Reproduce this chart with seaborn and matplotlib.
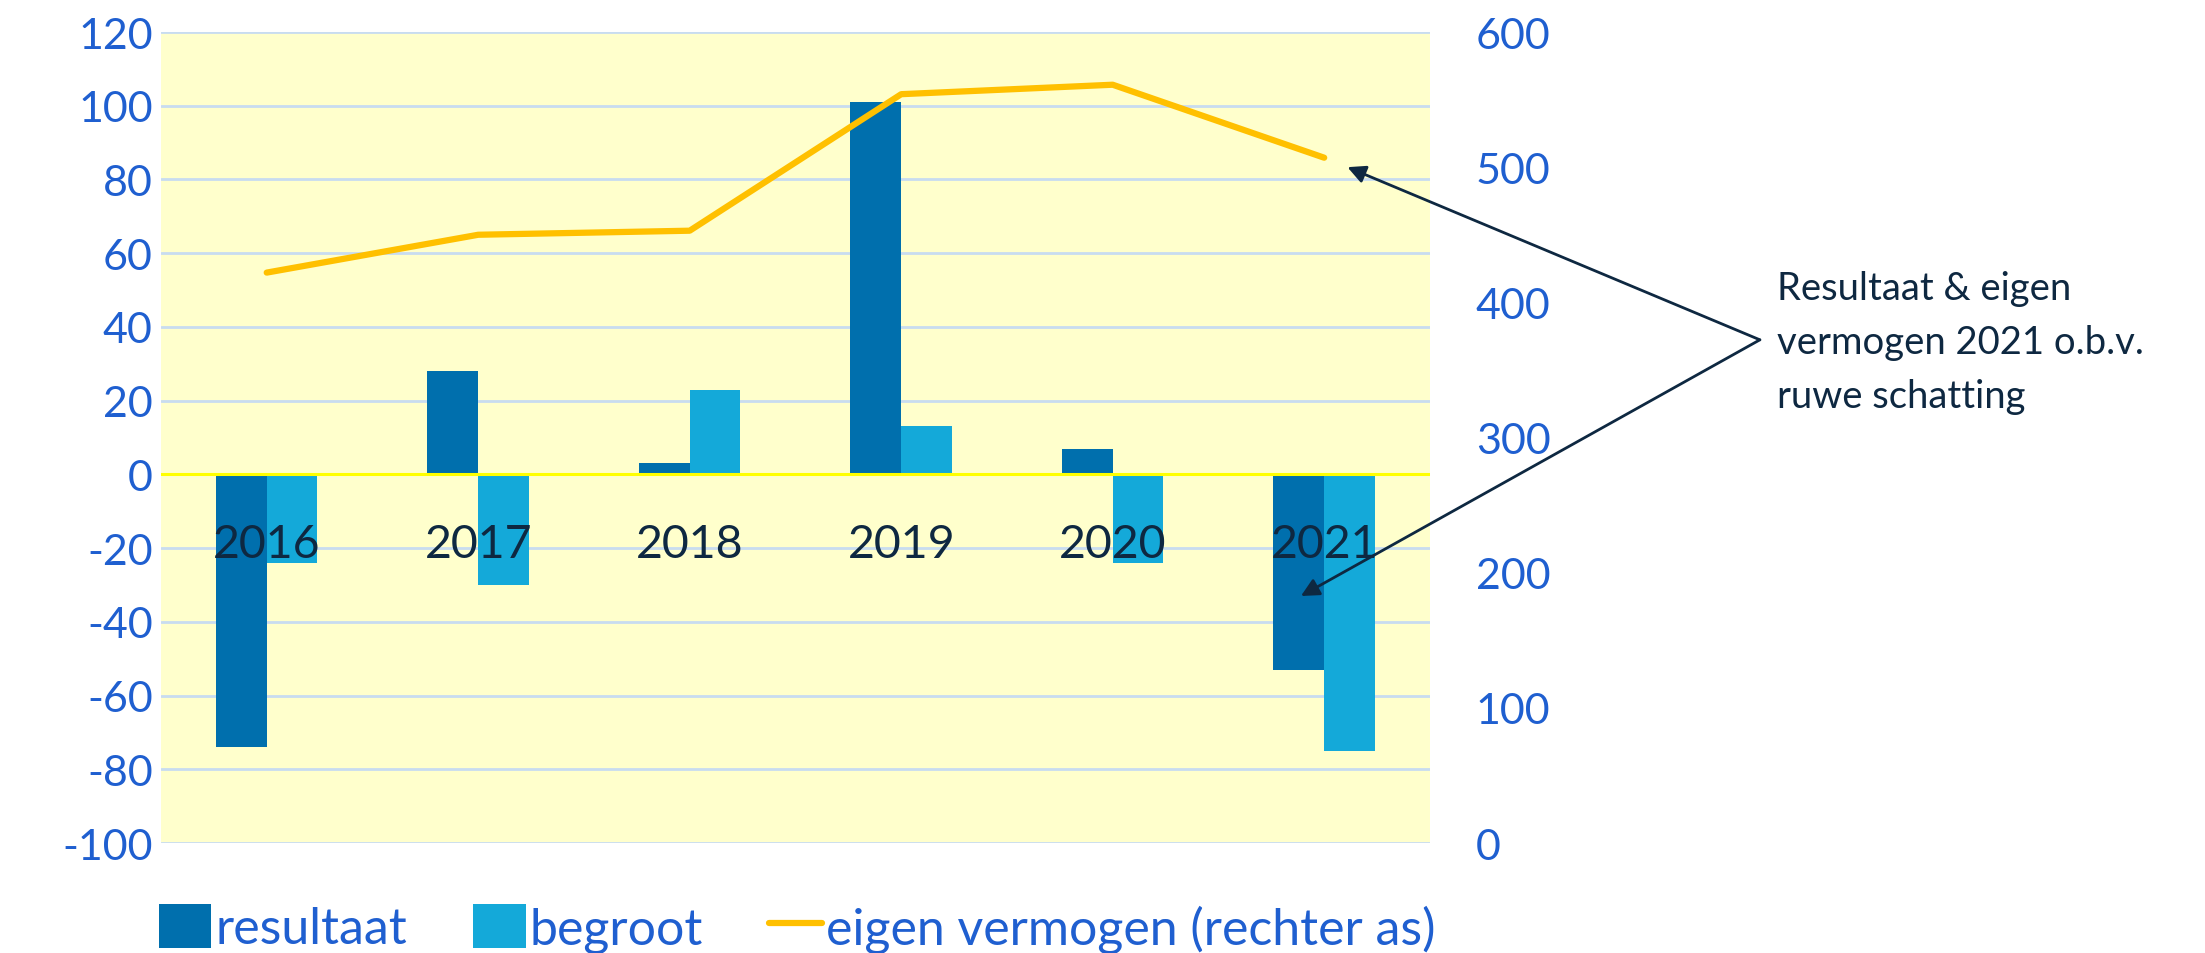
import numpy as np
import pandas as pd
import matplotlib
matplotlib.use("Agg")
import matplotlib.pyplot as plt
import matplotlib.transforms as mtransforms
from matplotlib.patches import Patch
from matplotlib.lines import Line2D
import seaborn as sns

# ---- data ----
years = ["2016", "2017", "2018", "2019", "2020", "2021"]
resultaat = [-74, 28, 3, 101, 7, -53]
begroot = [-24, -30, 23, 13, -24, -75]
eigen_vermogen = [422, 450, 453, 554, 561, 507]
left_ticks = [-100, -80, -60, -40, -20, 0, 20, 40, 60, 80, 100, 120]
right_ticks = [0, 100, 200, 300, 400, 500, 600]
series_names = ["resultaat", "begroot", "eigen vermogen (rechter as)"]
note_text = "Resultaat & eigen\nvermogen 2021 o.b.v.\nruwe schatting"

df = pd.DataFrame({
    "jaar": years * 2,
    "reeks": [series_names[0]] * len(years) + [series_names[1]] * len(years),
    "waarde": resultaat + begroot,
})

# ---- style ----
sns.set_theme(style="white")
plt.rcParams["font.family"] = ["Lato", "DejaVu Sans"]

c_res = "#006FAD"
c_beg = "#14A9D9"
c_line = "#FFC000"
c_tick = "#1F5FD0"
c_dark = "#0E2841"
c_grid = "#C8DCF0"
c_bg = "#FFFFCC"

fig = plt.figure(figsize=(22.05, 9.54), dpi=100)
ax = fig.add_axes([0.073, 0.1153, 0.5755, 0.8501])
ax.set_facecolor(c_bg)

sns.barplot(data=df, x="jaar", y="waarde", hue="reeks", order=years,
            hue_order=series_names[:2], palette=[c_res, c_beg],
            width=0.48, saturation=1, linewidth=0, ax=ax, legend=False)

ax.set_ylim(-100, 120)
ax.set_xlim(-0.5, len(years) - 0.5)
ax.set_yticks(left_ticks)
ax.set_yticklabels([str(t) for t in left_ticks])
ax.yaxis.grid(True, color=c_grid, linewidth=2)
ax.xaxis.grid(False)
ax.set_axisbelow(True)
ax.axhline(0, color="#FFFF00", linewidth=2.2, zorder=1.5)
for s in ax.spines.values():
    s.set_visible(False)
ax.set_xlabel("")
ax.set_ylabel("")
ax.set_xticks([])
ax.tick_params(axis="y", length=0, pad=6, labelsize=31, labelcolor=c_tick)

# year labels below the zero line
offset = mtransforms.offset_copy(ax.transData, fig=fig, x=0, y=-70, units="dots")
for i, yr in enumerate(years):
    ax.text(i, 0, yr, transform=offset, ha="center", va="center",
            fontsize=33.5, color=c_dark, zorder=5)

# ---- right axis line ----
ax2 = ax.twinx()
sns.lineplot(x=np.arange(len(years)), y=eigen_vermogen, color=c_line,
             linewidth=4.5, ax=ax2, legend=False, sort=False)
ax2.lines[0].set_solid_capstyle("round")
ax2.set_ylim(0, 600)
ax2.set_yticks(right_ticks)
ax2.set_yticklabels([str(t) for t in right_ticks])
ax2.grid(False)
for s in ax2.spines.values():
    s.set_visible(False)
ax2.tick_params(axis="y", length=0, pad=33, labelsize=31, labelcolor=c_tick)
for lab in ax2.get_yticklabels():
    lab.set_horizontalalignment("left")
ax2.set_ylabel("")

# ---- annotation with two arrows ----
src = (7.06, 36.5)
arrowprops = dict(arrowstyle="-|>,head_length=0.9,head_width=0.45",
                  color=c_dark, linewidth=2, shrinkA=0, shrinkB=0)
ax2.annotate("", xy=(5.11, 500), xycoords=ax2.transData,
             xytext=src, textcoords=ax.transData, arrowprops=arrowprops,
             annotation_clip=False, zorder=10)
ax2.annotate("", xy=(4.89, -33), xycoords=ax.transData,
             xytext=src, textcoords=ax.transData, arrowprops=arrowprops,
             annotation_clip=False, zorder=10)
ax2.text(7.14, 36.0, note_text, transform=ax.transData, ha="left", va="center",
         fontsize=27.5, color=c_dark, linespacing=1.62, clip_on=False)

# ---- legend ----
handles = [Patch(facecolor=c_res, edgecolor="none"),
           Patch(facecolor=c_beg, edgecolor="none"),
           Line2D([0], [0], color=c_line, linewidth=4.5)]
leg = fig.legend(handles, series_names, loc="center left",
                 bbox_to_anchor=(0.063, 0.026), ncol=3, frameon=False,
                 fontsize=36, handlelength=1.05, handleheight=1.0,
                 handletextpad=0.08, columnspacing=1.32, borderaxespad=0)
for t in leg.get_texts():
    t.set_color(c_tick)

fig.savefig("out.png", dpi=100)
